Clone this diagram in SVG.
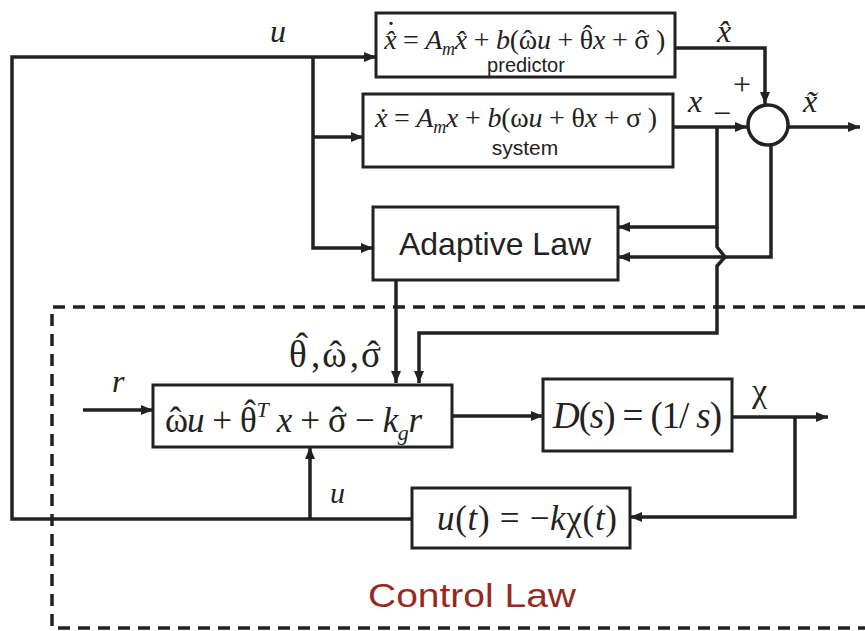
<svg xmlns="http://www.w3.org/2000/svg" width="865" height="631" viewBox="0 0 865 631">
<style>
.box{fill:#fff;stroke:#222;stroke-width:3}
.ln{fill:none;stroke:#222;stroke-width:3.5;stroke-linejoin:miter}
.eq{font-family:"Liberation Serif","Times New Roman",serif;fill:#222}
.it{font-style:italic}
.sans{font-family:"Liberation Sans",Arial,sans-serif;fill:#222}
.lab{font-family:"Liberation Serif","Times New Roman",serif;fill:#222}
</style>
<defs>
<marker id="ah" markerUnits="userSpaceOnUse" markerWidth="14" markerHeight="12" refX="12" refY="5" orient="auto">
<path d="M0,0 L12,5 L0,10 z" fill="#222"/>
</marker>
</defs>
<g id="connectors">
<path class="ln" d="M412,519 H12 V57 H376" marker-end="url(#ah)"/>
<path class="ln" d="M313,57 V248 H373" marker-end="url(#ah)"/>
<path class="ln" d="M313,137 H363" marker-end="url(#ah)"/>
<path class="ln" d="M675,48 H765 V104" marker-end="url(#ah)"/>
<path class="ln" d="M673,127 H747" marker-end="url(#ah)"/>
<path class="ln" d="M789,127 H860" marker-end="url(#ah)"/>
<path class="ln" d="M717,127 V227 H618" marker-end="url(#ah)"/>
<path class="ln" d="M717,227 V247 L725,257 L717,266 V333 H419 V383" marker-end="url(#ah)"/>
<path class="ln" d="M771,146 V257 H618" marker-end="url(#ah)"/>
<path class="ln" d="M396,280 V383" marker-end="url(#ah)"/>
<path class="ln" d="M83,410 H153" marker-end="url(#ah)"/>
<path class="ln" d="M452,416 H543" marker-end="url(#ah)"/>
<path class="ln" d="M732,417 H828" marker-end="url(#ah)"/>
<path class="ln" d="M795,417 V517 H630" marker-end="url(#ah)"/>
<path class="ln" d="M310,519 V447" marker-end="url(#ah)"/>
</g>
<g id="controlLawRegion">
<path d="M865,307 H52 V628 H865" fill="none" stroke="#222" stroke-width="3.5" stroke-dasharray="12 8"/>
<text x="472" y="607" class="sans" font-size="34" style="fill:#962a22" text-anchor="middle" textLength="208" lengthAdjust="spacingAndGlyphs">Control Law</text>
</g>
<g id="predictor">
<rect class="box" x="376" y="13" width="299" height="64"/>
<text class="eq" x="384" y="49" font-size="28" textLength="281" lengthAdjust="spacing"><tspan class="it">x̂</tspan><tspan dx="-9" dy="-24">.</tspan><tspan dx="2" dy="24"> = </tspan><tspan class="it">A</tspan><tspan class="it" font-size="18" dy="6">m</tspan><tspan class="it" dy="-6">x̂</tspan> + <tspan class="it">b</tspan>(ω<tspan dx="-14">ˆ</tspan><tspan dx="5" class="it">u</tspan> + θ<tspan dx="-10" dy="-5">ˆ</tspan><tspan dy="5" dx="1" class="it">x</tspan> + σ<tspan dx="-12">ˆ</tspan><tspan dx="3"> )</tspan></text>
<text class="sans" x="526" y="72" font-size="20" text-anchor="middle">predictor</text>
</g>
<g id="system">
<rect class="box" x="363" y="94" width="310" height="73"/>
<text class="eq" x="375" y="127" font-size="28" textLength="282" lengthAdjust="spacing"><tspan class="it">ẋ</tspan> = <tspan class="it">A</tspan><tspan class="it" font-size="18" dy="6">m</tspan><tspan class="it" dy="-6">x</tspan> + <tspan class="it">b</tspan>(ω<tspan class="it">u</tspan> + θ<tspan class="it">x</tspan> + σ )</text>
<text class="sans" x="525" y="155" font-size="21" text-anchor="middle">system</text>
</g>
<g id="sum">
<circle cx="768" cy="125" r="20" fill="#fff" stroke="#222" stroke-width="3.5"/>
</g>
<g id="adaptiveLaw">
<rect class="box" x="373" y="207" width="245" height="73"/>
<text class="sans" x="495" y="255" font-size="32" text-anchor="middle">Adaptive Law</text>
</g>
<g id="controller">
<rect class="box" x="153" y="385" width="299" height="62"/>
<text class="eq" x="165" y="432" font-size="35" textLength="257" lengthAdjust="spacing">ω<tspan dx="-18">ˆ</tspan><tspan dx="6" class="it">u</tspan> + θ<tspan dx="-12" dy="-7">ˆ</tspan><tspan dx="1" dy="-8" font-size="22" class="it">T</tspan><tspan dy="15" class="it"> x</tspan> + σ<tspan dx="-15">ˆ</tspan><tspan dx="4"> − </tspan><tspan class="it">k</tspan><tspan class="it" font-size="22" dy="8">g</tspan><tspan class="it" dy="-8">r</tspan></text>
</g>
<g id="filter">
<rect class="box" x="543" y="379" width="189" height="72"/>
<text class="eq" x="553" y="428" font-size="37" textLength="169" lengthAdjust="spacing"><tspan class="it">D</tspan>(<tspan class="it">s</tspan>) = (1/ <tspan class="it">s</tspan>)</text>
</g>
<g id="feedback">
<rect class="box" x="412" y="488" width="218" height="60"/>
<text class="eq" x="437" y="530" font-size="35" textLength="180" lengthAdjust="spacing"><tspan class="it">u</tspan>(<tspan class="it">t</tspan>) = −<tspan class="it">k</tspan>χ(<tspan class="it">t</tspan>)</text>
</g>
<g id="labels">
<text class="lab it" x="270" y="42" font-size="32">u</text>
<text class="lab it" x="717" y="42" font-size="32">x̂</text>
<text class="lab" x="733" y="95" font-size="32">+</text>
<text class="lab it" x="688" y="112" font-size="32">x</text>
<text class="lab" x="713" y="124" font-size="32">−</text>
<text class="lab it" x="803" y="112" font-size="32">x̃</text>
<text class="lab" x="289" y="367" font-size="37" textLength="94" lengthAdjust="spacing">θ<tspan dx="-13" dy="-8">ˆ</tspan><tspan dx="1" dy="8">,ω</tspan><tspan dx="-19">ˆ</tspan><tspan dx="6">,σ</tspan><tspan dx="-16">ˆ</tspan></text>
<text class="lab it" x="112" y="392" font-size="32">r</text>
<text class="lab" x="752" y="402" font-size="34">χ</text>
<text class="lab it" x="330" y="503" font-size="30">u</text>
</g>
</svg>
